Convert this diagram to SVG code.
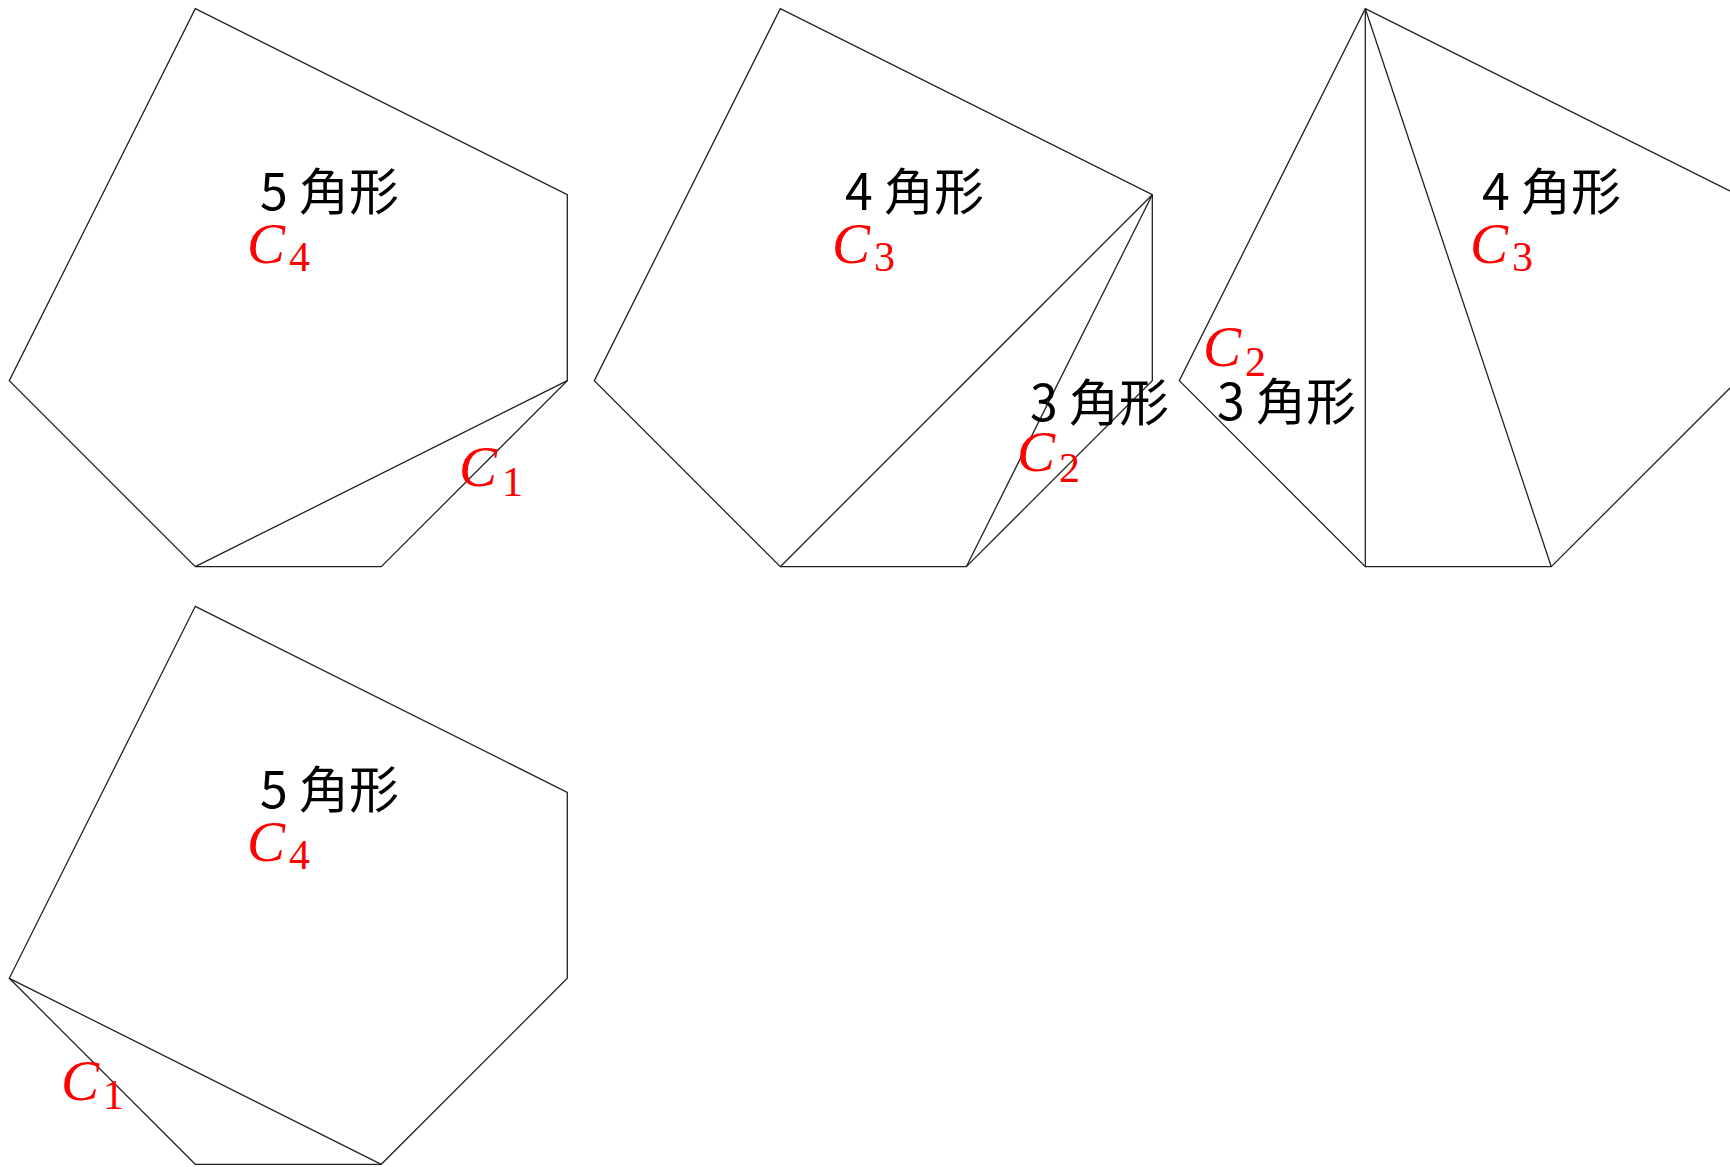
<svg xmlns="http://www.w3.org/2000/svg" xmlns:xlink="http://www.w3.org/1999/xlink" width="1730" height="1167" viewBox="0 0 1730 1167">
<style>
.edge{fill:none;stroke:#222;stroke-width:1.3;stroke-linejoin:miter}
.lbl{font-family:"Noto Sans CJK JP","Noto Sans CJK SC",sans-serif;font-size:50px;fill:#000}
.cv{font-family:"Liberation Serif",serif;font-style:italic;font-size:57px;fill:#ff0000}
.sub{font-family:"Liberation Serif",serif;font-size:42px;fill:#ff0000}
</style>
<defs>
<polygon id="hex" class="edge" points="195.3,8.7 567.3,194.7 567.3,380.7 381.3,566.7 195.3,566.7 9.3,380.7"/>
</defs>
<rect width="1730" height="1167" fill="#fff"/>

<g id="fig1">
<use xlink:href="#hex" href="#hex"/>
<line class="edge" x1="195.3" y1="566.7" x2="567.3" y2="380.7"/>
<text class="lbl" x="260" y="210">5 角形</text>
<text class="cv" x="247" y="263">C</text><text class="sub" x="289" y="271">4</text>
<text class="cv" x="459" y="486">C</text><text class="sub" x="502" y="496">1</text>
</g>

<g id="fig2">
<use xlink:href="#hex" href="#hex" transform="translate(585,0)"/>
<line class="edge" x1="1152.3" y1="194.7" x2="780.3" y2="566.7"/>
<line class="edge" x1="1152.3" y1="194.7" x2="966.3" y2="566.7"/>
<text class="lbl" x="845" y="210">4 角形</text>
<text class="cv" x="832" y="263">C</text><text class="sub" x="874" y="271">3</text>
<text class="lbl" x="1030" y="421">3 角形</text>
<text class="cv" x="1017" y="471">C</text><text class="sub" x="1059" y="482">2</text>
</g>

<g id="fig3">
<use xlink:href="#hex" href="#hex" transform="translate(1170,0)"/>
<line class="edge" x1="1365.3" y1="8.7" x2="1365.3" y2="566.7"/>
<line class="edge" x1="1365.3" y1="8.7" x2="1551.3" y2="566.7"/>
<text class="lbl" x="1482" y="210">4 角形</text>
<text class="cv" x="1470" y="263">C</text><text class="sub" x="1512" y="271">3</text>
<text class="cv" x="1203" y="366">C</text><text class="sub" x="1245" y="376">2</text>
<text class="lbl" x="1217" y="420">3 角形</text>
</g>

<g id="fig4">
<use xlink:href="#hex" href="#hex" transform="translate(0,597.6)"/>
<line class="edge" x1="9.3" y1="978.3" x2="381.3" y2="1164.3"/>
<text class="lbl" x="260" y="808">5 角形</text>
<text class="cv" x="247" y="861">C</text><text class="sub" x="289" y="869">4</text>
<text class="cv" x="61" y="1100">C</text><text class="sub" x="103" y="1109">1</text>
</g>
</svg>
